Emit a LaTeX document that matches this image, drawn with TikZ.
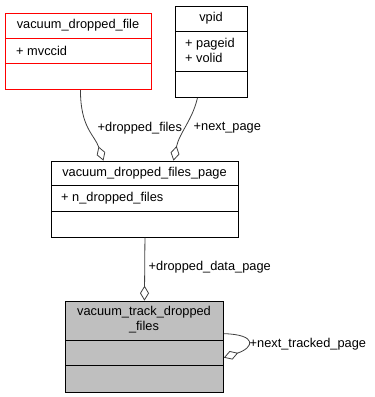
\documentclass[tikz,border=0pt]{standalone}
\usepackage{fontspec}
\setmainfont{Liberation Sans}
\usetikzlibrary{arrows.meta}

\definecolor{edgegray}{HTML}{404040}
\definecolor{classgray}{HTML}{BFBFBF}
\definecolor{classred}{HTML}{FF0000}

\begin{document}
\begin{tikzpicture}[x=1pt,y=-1pt,
  classbox/.style={draw=#1,line width=0.9pt,inner sep=0pt,anchor=north west},
  classbox/.default=black,
  classtext/.style={inner sep=0pt,font=\fontsize{12.8}{15}\selectfont},
  member/.style={classtext,anchor=west,align=left},
  role/.style={classtext,anchor=west,inner sep=0.5pt},
  aggr/.style={draw=edgegray,line width=0.8pt,-{Diamond[open,fill=white,length=15pt,width=9pt]}}]
\useasboundingbox (0,0) rectangle (375,397);

% vacuum_dropped_file
\node[classbox=classred,minimum width=146pt,minimum height=76pt] (vdf) at (5,13) {};
\draw[classred,line width=0.9pt] (5,38.7) -- (151,38.7);
\draw[classred,line width=0.9pt] (5,63.7) -- (151,63.7);
\node[classtext] (vdftitle) at (78,25.5) {vacuum\_dropped\_file};
\node[member] (vdfattr) at (16,51) {+ mvccid};

% vpid
\node[classbox,minimum width=72pt,minimum height=91.3pt] (vpid) at (175,5.7) {};
\draw[line width=0.9pt] (175,31.7) -- (247,31.7);
\draw[line width=0.9pt] (175,71) -- (247,71);
\node[classtext] (vpidtitle) at (211,18) {vpid};
\node[member] (vpidattr) at (185,50.5) {+ pageid\\+ volid};

% vacuum_dropped_files_page
\node[classbox,minimum width=187pt,minimum height=76pt] (vdfp) at (51,160.7) {};
\draw[line width=0.9pt] (51,185.7) -- (238,185.7);
\draw[line width=0.9pt] (51,211) -- (238,211);
\node[classtext] (vdfptitle) at (144.5,173) {vacuum\_dropped\_files\_page};
\node[member] (vdfpattr) at (61,198) {+ n\_dropped\_files};

% vacuum_track_dropped_files
\node[classbox,fill=classgray,minimum width=158pt,minimum height=91pt] (vtdf) at (65,300.7) {};
\draw[line width=0.9pt] (65,340) -- (223,340);
\draw[line width=0.9pt] (65,365.7) -- (223,365.7);
\node[classtext,align=center] (vtdftitle) at (144,320) {vacuum\_track\_dropped\\\_files};

% aggregations
\draw[aggr] ([xshift=2pt]vdf.south) .. controls +(0pt,-38pt) and +(-9pt,26pt) .. ([xshift=-41.5pt]vdfp.north);
\draw[aggr] ([xshift=-14pt]vpid.south) .. controls +(-5pt,-22pt) and +(6pt,28pt) .. ([xshift=28.5pt]vdfp.north);
\draw[aggr] (vdfp.south) -- (vtdf.north);
\draw[aggr] ([yshift=13pt]vtdf.east) .. controls +(34pt,-1pt) and +(30pt,10pt) .. ([yshift=-11pt]vtdf.east);

\node[role] (dropfiles) at (97,128) {+dropped\_files};
\node[role] (nextpage) at (193,128) {+next\_page};
\node[role] (datapage) at (148,267) {+dropped\_data\_page};
\node[role] (trackedpage) at (249,344) {+next\_tracked\_page};
\end{tikzpicture}
\end{document}
